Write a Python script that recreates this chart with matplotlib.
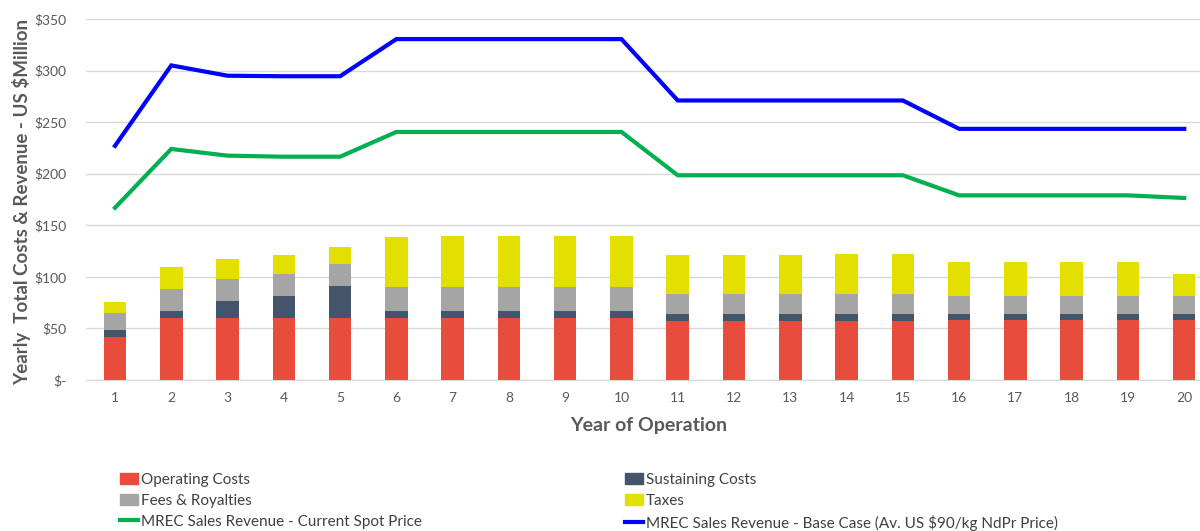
import matplotlib
matplotlib.use("Agg")
import matplotlib.pyplot as plt
from matplotlib.patches import Patch
from matplotlib.lines import Line2D

years = list(range(1, 21))
operating = [42, 60, 60, 60, 60, 60, 60, 60, 60, 60, 57, 57, 57, 57, 57, 58, 58, 58, 58, 58]
sustaining = [6.5, 6.5, 16.5, 21.5, 31, 6.5, 6.5, 6.5, 6.5, 6.5, 7, 7, 7, 7, 7, 6, 6, 6, 6, 6]
fees = [16, 21.5, 21, 21.5, 21, 23.5, 23.5, 23.5, 23.5, 23.5, 19.5, 19.5, 19.5, 19.5, 19.5, 17.5, 17.5, 17.5, 17.5, 17.5]
taxes = [11, 22, 19.5, 18, 17, 48.5, 49.5, 49.5, 50, 50, 37.5, 37.5, 37.5, 38.5, 38.5, 32.5, 32.5, 32.5, 32.5, 21]
spot_rev = [167, 224, 217.5, 216.5, 216.5, 240.5, 240.5, 240.5, 240.5, 240.5, 198.5, 198.5, 198.5, 198.5, 198.5, 179, 179, 179, 179, 176.5]
base_rev = [227, 305, 295, 294.5, 294.5, 330.5, 330.5, 330.5, 330.5, 330.5, 271, 271, 271, 271, 271, 243.5, 243.5, 243.5, 243.5, 243.5]
y_ticks = [0, 50, 100, 150, 200, 250, 300, 350]
y_tick_labels = ["$-", "$50", "$100", "$150", "$200", "$250", "$300", "$350"]

plt.rcParams['font.family'] = ['Lato', 'DejaVu Sans']

c_op = "#E84C3D"
c_sus = "#44546A"
c_fee = "#A5A5A5"
c_tax = "#E3E000"
c_green = "#00B050"
c_blue = "#0000FF"
txt = "#595959"

fig = plt.figure(figsize=(12, 5.31), dpi=100)
ax = fig.add_axes([86/1200, (531-380)/531, 1 - 86/1200, (380-19)/531])

w = 0.4
b1 = [o for o in operating]
b2 = [o + s for o, s in zip(operating, sustaining)]
b3 = [o + s + f for o, s, f in zip(operating, sustaining, fees)]
ax.bar(years, operating, w, color=c_op, zorder=2)
ax.bar(years, sustaining, w, bottom=b1, color=c_sus, zorder=2)
ax.bar(years, fees, w, bottom=b2, color=c_fee, zorder=2)
ax.bar(years, taxes, w, bottom=b3, color=c_tax, zorder=2)
ax.plot(years, spot_rev, color=c_green, lw=3, zorder=3, solid_joinstyle='miter')
ax.plot(years, base_rev, color=c_blue, lw=3, zorder=3, solid_joinstyle='miter')

ax.set_xlim(0.485, 20.28)
ax.set_ylim(0, 350)
ax.set_yticks(y_ticks)
ax.set_yticklabels(y_tick_labels)
ax.set_xticks(years)
ax.set_xticklabels([str(y) for y in years])
ax.grid(axis='y', color='#D9D9D9', lw=1, zorder=0)
ax.set_axisbelow(True)
for s in ['top', 'right', 'left']:
    ax.spines[s].set_visible(False)
ax.spines['bottom'].set_color('#D9D9D9')
ax.tick_params(axis='both', length=0, colors=txt, labelsize=10)
ax.tick_params(axis='y', pad=14)
ax.tick_params(axis='x', pad=9)

fig.text(22/1200, 1 - 202/531, "Yearly  Total Costs & Revenue - US $Million", rotation=90,
         ha='center', va='center', fontsize=13.5, fontweight='bold', color=txt)
fig.text(649/1200, 1 - 425/531, "Year of Operation", ha='center', va='center',
         fontsize=14, fontweight='bold', color=txt)

h1 = [Patch(color=c_op), Patch(color=c_fee), Line2D([], [], color=c_green, lw=3)]
l1 = ["Operating Costs", "Fees & Royalties", "MREC Sales Revenue - Current Spot Price"]
h2 = [Patch(color=c_sus), Patch(color=c_tax), Line2D([], [], color=c_blue, lw=3)]
l2 = ["Sustaining Costs", "Taxes", "MREC Sales Revenue - Base Case (Av. US $90/kg NdPr Price)"]
for h, l, x in [(h1, l1, 120), (h2, l2, 625)]:
    lg = fig.legend(h, l, loc='upper left', bbox_to_anchor=(x/1200, 1 - 473/531), frameon=False,
                    fontsize=11, handlelength=1.2, handleheight=0.7, handletextpad=0.15,
                    labelspacing=0.45, borderaxespad=0, borderpad=0)
    for t in lg.get_texts():
        t.set_color('#404040')

fig.savefig("out.png", dpi=100)
